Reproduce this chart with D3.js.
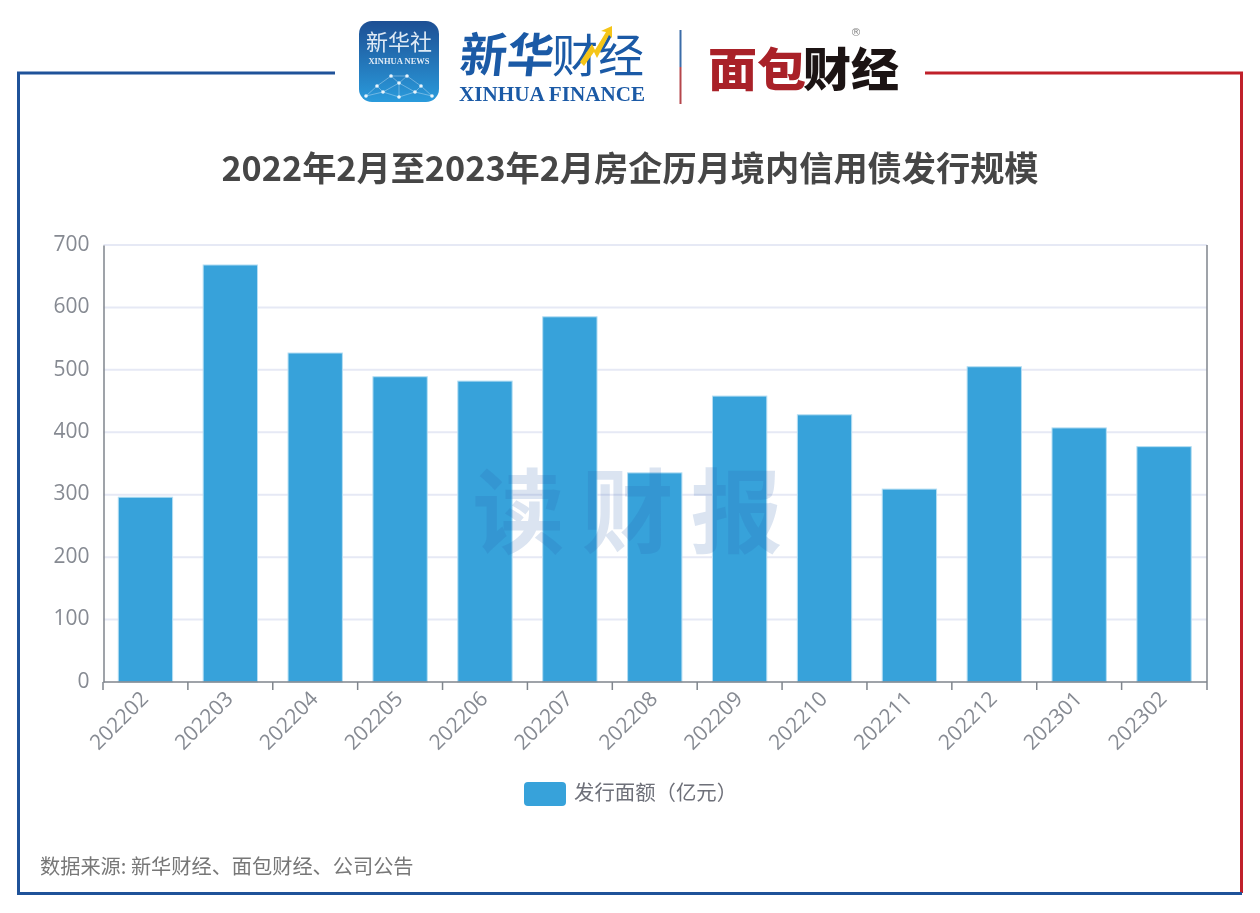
<!DOCTYPE html>
<html>
<head>
<meta charset="utf-8">
<script src="https://cdnjs.cloudflare.com/ajax/libs/d3/7.8.5/d3.min.js"></script>
<style>
  html, body { margin: 0; padding: 0; background: #fff; }
  svg { display: block; filter: blur(0.45px); }
  text { font-family: "Noto Sans CJK SC", "Noto Sans", sans-serif; }
</style>
</head>
<body>
<div id="chart"></div>
<script>
var months = ["202202", "202203", "202204", "202205", "202206", "202207", "202208",
              "202209", "202210", "202211", "202212", "202301", "202302"];
var amounts = [296, 668, 527, 489, 482, 585, 335, 458, 428, 309, 505, 407, 377];
var yTicks = [0, 100, 200, 300, 400, 500, 600, 700];
var titleText = "2022年2月至2023年2月房企历月境内信用债发行规模";
var legendText = "发行面额（亿元）";
var sourceText = "数据来源: 新华财经、面包财经、公司公告";

var width = 1260,
    height = 913;
var plot = {left: 103.5, right: 1207, top: 245, bottom: 682};
var blue = "#1f5299", red = "#c0202a", axisGrey = "#7f858c", labelGrey = "#868a92";

var svg = d3.select("#chart").append("svg")
    .attr("width", width)
    .attr("height", height);

var defs = svg.append("defs");
var iconGrad = defs.append("linearGradient").attr("id", "iconGrad")
    .attr("x1", 0).attr("y1", 0).attr("x2", 0).attr("y2", 1);
iconGrad.append("stop").attr("offset", 0).attr("stop-color", "#1d4f94");
iconGrad.append("stop").attr("offset", 1).attr("stop-color", "#2a9bdc");
var ruleGrad = defs.append("linearGradient").attr("id", "ruleGrad")
    .attr("gradientUnits", "userSpaceOnUse")
    .attr("x1", 0).attr("y1", 30).attr("x2", 0).attr("y2", 104);
ruleGrad.append("stop").attr("offset", 0.5).attr("stop-color", "#3b6ca8");
ruleGrad.append("stop").attr("offset", 0.5).attr("stop-color", "#b5464c");

// frame
svg.append("path").attr("fill", "none").attr("stroke", red).attr("stroke-width", 3)
    .attr("d", "M925,73H1241.5V893");
svg.append("path").attr("fill", "none").attr("stroke", blue).attr("stroke-width", 3)
    .attr("d", "M335,73H18.5V893.5H1242");

// scales
var x = d3.scaleBand()
    .domain(months)
    .range([plot.left - 0.5, plot.right - 0.5])
    .paddingInner(0.36)
    .paddingOuter(0.18);

var y = d3.scaleLinear()
    .domain([0, 700])
    .range([plot.bottom, plot.top]);

// grid
svg.append("g").selectAll("line")
    .data(yTicks.slice(1))
    .enter().append("line")
    .attr("x1", plot.left)
    .attr("x2", plot.right)
    .attr("y1", d => y(d))
    .attr("y2", d => y(d))
    .attr("stroke", "#e6e9f5")
    .attr("stroke-width", 2);

// right edge line
svg.append("line")
    .attr("x1", plot.right).attr("x2", plot.right)
    .attr("y1", plot.top).attr("y2", plot.bottom + 8)
    .attr("stroke", axisGrey).attr("stroke-width", 1.5);

// bars
svg.append("g").selectAll("rect")
    .data(months)
    .enter().append("rect")
    .attr("x", d => x(d))
    .attr("y", (d, i) => y(amounts[i]))
    .attr("width", x.bandwidth())
    .attr("height", (d, i) => plot.bottom - y(amounts[i]))
    .attr("fill", "#37a2da")
    .attr("stroke", "#b5def3")
    .attr("stroke-width", 1);

// y axis
var yAxis = svg.append("g")
    .attr("transform", "translate(" + plot.left + ",0)")
    .call(d3.axisLeft(y).tickValues(yTicks).tickSize(0).tickPadding(14));
yAxis.select(".domain").attr("stroke", axisGrey).attr("stroke-width", 1.5);
yAxis.selectAll("text")
    .attr("fill", labelGrey)
    .attr("dy", "0.25em")
    .style("font-family", "'Open Sans', sans-serif")
    .style("font-size", "21px");

// x axis, ticks sit on the band edges
var xAxisG = svg.append("g");
xAxisG.append("line")
    .attr("x1", plot.left).attr("x2", plot.right)
    .attr("y1", plot.bottom).attr("y2", plot.bottom)
    .attr("stroke", axisGrey).attr("stroke-width", 1.5);
xAxisG.selectAll(".edge")
    .data(months)
    .enter().append("line")
    .attr("class", "edge")
    .attr("x1", d => x(d) - x.step() * 0.18)
    .attr("x2", d => x(d) - x.step() * 0.18)
    .attr("y1", plot.bottom)
    .attr("y2", plot.bottom + 8)
    .attr("stroke", axisGrey).attr("stroke-width", 1.5);
xAxisG.selectAll(".lab")
    .data(months)
    .enter().append("text")
    .attr("class", "lab")
    .attr("text-anchor", "end")
    .attr("transform", d => "translate(" + (x(d) + x.bandwidth() / 2 + 4) + "," + (plot.bottom + 18) + ") rotate(-45)")
    .attr("fill", labelGrey)
    .style("font-family", "'Open Sans', sans-serif")
    .style("font-size", "21px")
    .text(d => d);

// watermark
svg.append("text")
    .attr("x", 636)
    .attr("y", 546)
    .attr("text-anchor", "middle")
    .attr("fill", "#2a5caa")
    .attr("fill-opacity", 0.17)
    .style("font-size", "92px")
    .style("font-weight", 700)
    .style("letter-spacing", "17px")
    .text("读财报");

// title
svg.append("text")
    .attr("x", 630)
    .attr("y", 181)
    .attr("text-anchor", "middle")
    .attr("fill", "#464646")
    .style("font-size", "34.2px")
    .style("font-weight", 700)
    .text(titleText);

// legend
svg.append("rect")
    .attr("x", 524).attr("y", 782)
    .attr("width", 42).attr("height", 24)
    .attr("rx", 4)
    .attr("fill", "#37a2da");
svg.append("text")
    .attr("x", 574).attr("y", 800)
    .attr("fill", "#6e7079")
    .style("font-size", "20.4px")
    .text(legendText);

// source
svg.append("text")
    .attr("x", 40).attr("y", 874)
    .attr("fill", "#777")
    .style("font-size", "20.2px")
    .text(sourceText);

// logos
var logo = svg.append("g");
logo.append("rect")
    .attr("x", 359).attr("y", 21)
    .attr("width", 80).attr("height", 81)
    .attr("rx", 13)
    .attr("fill", "url(#iconGrad)");
logo.append("text")
    .attr("x", 399).attr("y", 50)
    .attr("text-anchor", "middle")
    .attr("fill", "#dfeaf5")
    .style("font-size", "22px")
    .text("新华社");
logo.append("text")
    .attr("x", 399).attr("y", 64)
    .attr("text-anchor", "middle")
    .attr("fill", "#dfeaf5")
    .style("font-family", "'Liberation Serif', serif")
    .style("font-size", "8.5px")
    .style("font-weight", 700)
    .text("XINHUA NEWS");

// globe mesh on the icon
var meshPts = [[366, 96], [377, 86], [391, 76], [407, 76], [421, 86], [432, 96], [399, 97], [383, 92], [415, 92], [399, 83]];
var meshLinks = [[0, 1], [1, 2], [2, 3], [3, 4], [4, 5], [1, 7], [2, 9], [3, 9], [4, 8], [7, 6], [6, 8], [9, 7], [9, 8], [0, 7], [5, 8], [9, 6]];
logo.append("g").selectAll("line")
    .data(meshLinks)
    .enter().append("line")
    .attr("x1", d => meshPts[d[0]][0])
    .attr("y1", d => meshPts[d[0]][1])
    .attr("x2", d => meshPts[d[1]][0])
    .attr("y2", d => meshPts[d[1]][1])
    .attr("stroke", "#cfe6f7")
    .attr("stroke-opacity", 0.6)
    .attr("stroke-width", 0.7);
logo.append("g").selectAll("circle")
    .data(meshPts)
    .enter().append("circle")
    .attr("cx", d => d[0])
    .attr("cy", d => d[1])
    .attr("r", 1.8)
    .attr("fill", "#eaf5fc");

logo.append("text")
    .attr("x", 458).attr("y", 72)
    .attr("fill", "#1b5aa6")
    .style("font-size", "47px")
    .style("font-weight", 700)
    .attr("transform", "skewX(-6) translate(8,0)")
    .text("新华");
logo.append("text")
    .attr("x", 552).attr("y", 72)
    .attr("fill", "#1b5aa6")
    .style("font-size", "46px")
    .text("财经");
logo.append("path")
    .attr("d", "M580,62L592,44L595,50L606,32L601,31L612,26L612,38L609,35L597,58L594,52L584,66Z")
    .attr("fill", "#f5c518");
logo.append("text")
    .attr("x", 459).attr("y", 101)
    .attr("fill", "#1b5aa6")
    .attr("textLength", 186)
    .attr("lengthAdjust", "spacingAndGlyphs")
    .style("font-family", "'Liberation Serif', serif")
    .style("font-size", "22px")
    .style("font-weight", 700)
    .text("XINHUA FINANCE");

logo.append("line")
    .attr("x1", 680.5).attr("x2", 680.5)
    .attr("y1", 30).attr("y2", 104)
    .attr("stroke", "url(#ruleGrad)")
    .attr("stroke-width", 2);

logo.append("text")
    .attr("x", 708).attr("y", 86)
    .attr("fill", "#a92128")
    .style("font-size", "46px")
    .style("font-weight", 900)
    .attr("textLength", 98)
    .attr("lengthAdjust", "spacingAndGlyphs")
    .text("面包");
logo.append("text")
    .attr("x", 803).attr("y", 86)
    .attr("fill", "#1c1414")
    .style("font-size", "46px")
    .style("font-weight", 900)
    .attr("textLength", 96)
    .attr("lengthAdjust", "spacingAndGlyphs")
    .text("财经");
logo.append("text")
    .attr("x", 856).attr("y", 36)
    .attr("text-anchor", "middle")
    .attr("fill", "#888")
    .style("font-family", "'DejaVu Sans', sans-serif")
    .style("font-size", "11px")
    .text("®");
</script>
</body>
</html>
